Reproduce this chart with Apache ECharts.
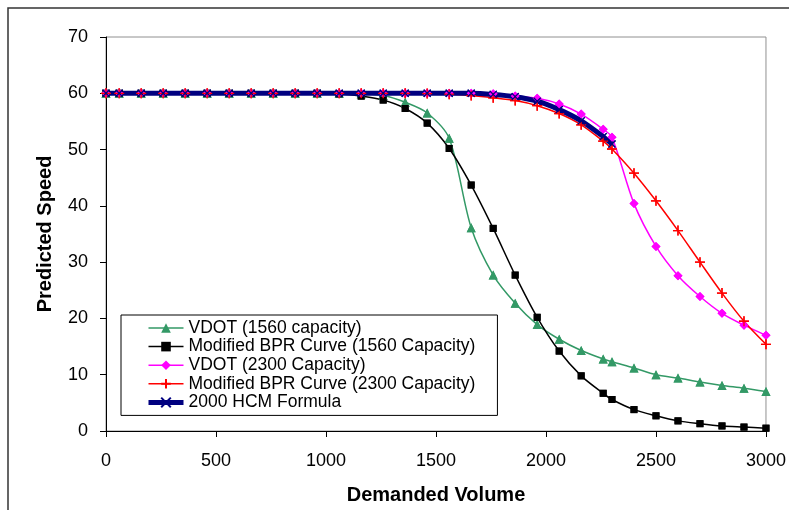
<!DOCTYPE html>
<html>
<head>
<meta charset="utf-8">
<script src="https://cdn.jsdelivr.net/npm/echarts@6/dist/echarts.min.js"></script>
<style>
  html, body { margin: 0; padding: 0; background: #fff; }
  #chart { width: 789px; height: 510px; }
</style>
</head>
<body>
<div id="chart"></div>
<script>
// demanded volume at each data point
const volumes = [0, 60, 160, 260, 360, 460, 560, 660, 760, 860, 960, 1060, 1160, 1260,
  1360, 1460, 1560, 1660, 1760, 1860, 1960, 2060, 2160, 2260, 2300,
  2400, 2500, 2600, 2700, 2800, 2900, 3000];

const vdot1560 = [60, 60, 60, 60, 60, 60, 60, 60, 60, 60, 60, 60, 59.9, 59.6,
  58.4, 56.5, 52.0, 36.1, 27.7, 22.7, 18.9, 16.3, 14.3, 12.8, 12.3,
  11.2, 10.0, 9.4, 8.7, 8.1, 7.6, 7.0];

const bpr1560 = [60, 60, 60, 60, 60, 60, 60, 60, 60, 60, 60, 59.9, 59.5, 58.8,
  57.3, 54.7, 50.2, 43.7, 36.0, 27.7, 20.2, 14.2, 9.8, 6.7, 5.6,
  3.8, 2.7, 1.8, 1.3, 0.9, 0.7, 0.5];

const vdot2300 = [60, 60, 60, 60, 60, 60, 60, 60, 60, 60, 60, 60, 60, 60,
  60, 60, 60, 60, 59.9, 59.5, 59.1, 58.1, 56.3, 53.6, 52.2,
  40.4, 32.8, 27.6, 23.9, 20.9, 18.8, 17.0];

const bpr2300 = [60, 60, 60, 60, 60, 60, 60, 60, 60, 60, 60, 60, 60, 60,
  60, 59.95, 59.85, 59.6, 59.2, 58.7, 57.8, 56.4, 54.4, 51.5, 50.1,
  45.8, 40.9, 35.6, 30.0, 24.5, 19.5, 15.4];

// HCM curve stops at 2300
const hcm2000 = [60, 60, 60, 60, 60, 60, 60, 60, 60, 60, 60, 60, 60, 60,
  60, 60, 60, 60, 59.8, 59.4, 58.6, 57.1, 55.1, 52.3, 51.0];

const seriesNames = [
  'VDOT (1560 capacity)',
  'Modified BPR Curve (1560 Capacity)',
  'VDOT (2300 Capacity)',
  'Modified BPR Curve (2300 Capacity)',
  '2000 HCM Formula'
];

const xTicks = { min: 0, max: 3000, step: 500 };
const yTicks = { min: 0, max: 70, step: 10 };

const font = '"Liberation Sans", Arial, sans-serif';

const toPoints = (ys) => ys.map((y, i) => [volumes[i], y]);

const looks = [
  { data: vdot1560, color: '#339966', width: 1.5, symbol: 'triangle', size: 9, stroke: 0 },
  { data: bpr1560, color: '#000000', width: 1.5, symbol: 'rect', size: 7, stroke: 0 },
  { data: vdot2300, color: '#ff00ff', width: 1.5, symbol: 'diamond', size: 9, stroke: 0 },
  { data: bpr2300, color: '#ff0000', width: 1.5, symbol: 'path://M0,5L10,5M5,0L5,10', size: 10, stroke: 1.3 },
  { data: hcm2000, color: '#000080', width: 5, symbol: 'path://M0,0L10,10M10,0L0,10', size: 7, stroke: 1.3 }
];

const markerStyle = (s) => ({
  color: s.stroke ? 'transparent' : s.color,
  borderColor: s.color,
  borderWidth: s.stroke,
  opacity: 1
});

const lineSeries = looks.map((s, i) => ({
  name: seriesNames[i],
  type: 'line',
  data: toPoints(s.data),
  smooth: 0.3,
  symbol: s.symbol,
  symbolSize: s.size,
  showAllSymbol: true,
  lineStyle: { color: s.color, width: s.width },
  itemStyle: markerStyle(s),
  emphasis: { disabled: true }
}));

// markers again on top of every line, the way the spreadsheet draws them
const markerSeries = looks.map((s, i) => ({
  name: 'markers ' + i,
  type: 'scatter',
  data: toPoints(s.data),
  symbol: s.symbol,
  symbolSize: s.size,
  itemStyle: markerStyle(s),
  silent: true
}));

const chart = echarts.init(document.getElementById('chart'), null, { renderer: 'canvas' });

chart.setOption({
  animation: false,
  backgroundColor: '#fff',
  textStyle: { fontFamily: font },
  graphic: [{
    type: 'rect',
    shape: { x: 8, y: 8, width: 900, height: 600 },
    style: { fill: 'none', stroke: '#333', lineWidth: 1.5 },
    z: -1
  }],
  grid: {
    left: 106, right: 20, top: 37, bottom: 78,
    show: true, borderColor: '#909090', borderWidth: 1, backgroundColor: '#fff'
  },
  legend: {
    data: seriesNames.map((name, i) => ({
      name,
      lineStyle: { width: looks[i].width, color: looks[i].color }
    })),
    orient: 'vertical',
    left: 121, top: 315,
    padding: [4, 22, 4, 25],
    itemWidth: 35, itemHeight: 12, itemGap: 0.6,
    backgroundColor: '#fff',
    borderColor: '#000', borderWidth: 1,
    selectedMode: false,
    textStyle: { fontFamily: font, fontSize: 17.5, lineHeight: 18, color: '#000' }
  },
  xAxis: {
    type: 'value',
    min: xTicks.min, max: xTicks.max, interval: xTicks.step,
    name: 'Demanded Volume',
    nameLocation: 'middle', nameGap: 54,
    nameTextStyle: { fontFamily: font, fontSize: 20, fontWeight: 'bold', color: '#000' },
    axisLine: { onZero: false, lineStyle: { color: '#000', width: 1 } },
    axisTick: { show: true, length: 6, lineStyle: { color: '#000' } },
    axisLabel: { fontFamily: font, fontSize: 18, color: '#000', margin: 21, formatter: (v) => String(v) },
    splitLine: { show: false }
  },
  yAxis: {
    type: 'value',
    min: yTicks.min, max: yTicks.max, interval: yTicks.step,
    name: 'Predicted Speed',
    nameLocation: 'middle', nameGap: 51,
    nameTextStyle: { fontFamily: font, fontSize: 20, fontWeight: 'bold', color: '#000' },
    axisLine: { show: true, onZero: false, lineStyle: { color: '#000', width: 1 } },
    axisTick: { show: true, length: 6, lineStyle: { color: '#000' } },
    axisLabel: { fontFamily: font, fontSize: 18, color: '#000', margin: 18, formatter: (v) => String(v) },
    splitLine: { show: false }
  },
  series: lineSeries.concat(markerSeries)
});
</script>
</body>
</html>
